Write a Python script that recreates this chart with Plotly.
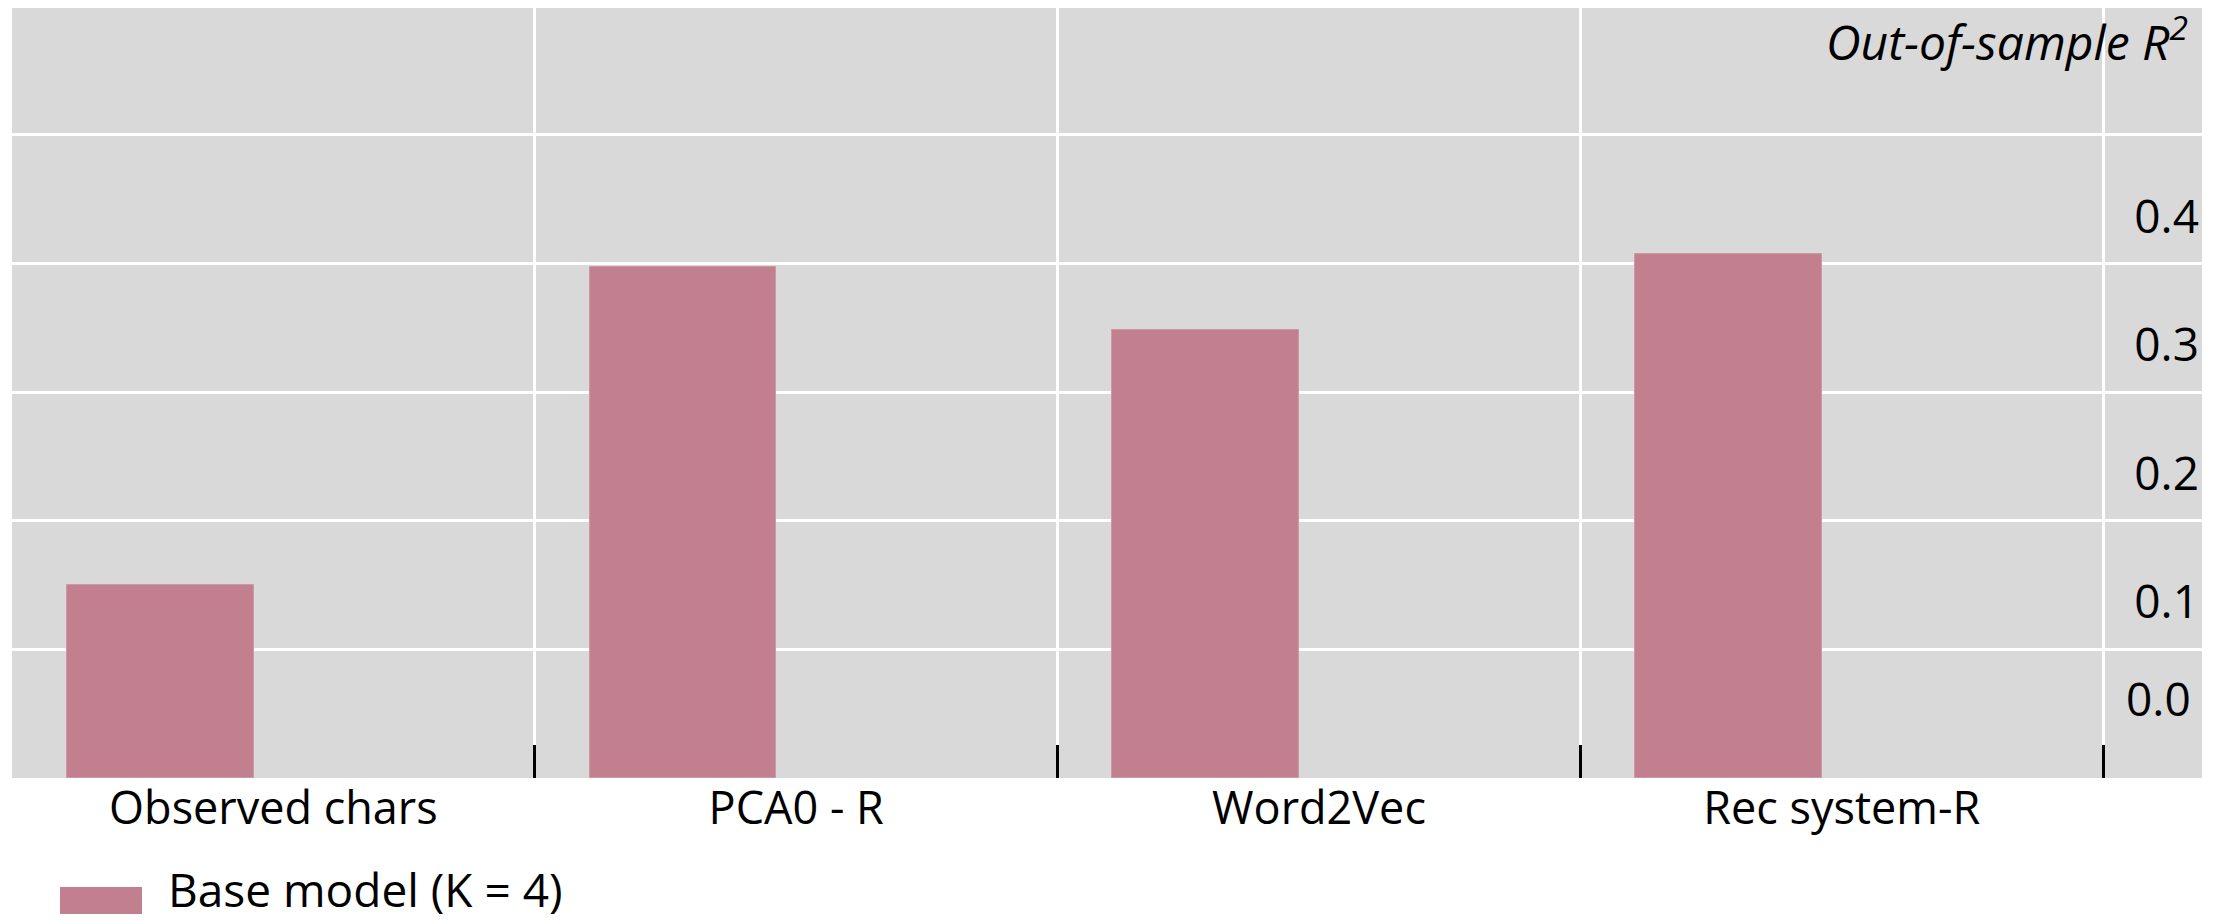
import plotly.graph_objects as go

# ---- data ----
categories = ["Observed chars", "PCA0 - R", "Word2Vec", "Rec system-R"]
base_model_r2 = [0.150, 0.397, 0.348, 0.407]
series_name = "Base model (K = 4)"
y_tickvals = [0.0, 0.1, 0.2, 0.3, 0.4, 0.5]
y_ticktext = ["", "0.1", "0.2", "0.3", "0.4", ""]
zero_label = "0.0"

BAR_COLOR = "#c27f8f"
BG = "#d9d9d9"
FONT = "Open Sans"

# the page body has an 8px default margin; compensate so the plot sits where the reference does
BODY = 8
W, H = 2210, 906
PLOT_LEFT, PLOT_RIGHT, PLOT_TOP, PLOT_BOTTOM = 12, 2202, 8, 778  # page pixels
ML = PLOT_LEFT - BODY
MT = PLOT_TOP - BODY
MR = W - (PLOT_RIGHT - BODY)
MB = H - (PLOT_BOTTOM - BODY)
PW, PH = W - ML - MR, H - MT - MB

def px_x(px):
    return (px - PLOT_LEFT) / PW

def px_y(py):
    return (PLOT_BOTTOM - py) / PH

fig = go.Figure()
fig.add_trace(go.Bar(
    x=categories, y=base_model_r2, name=series_name,
    width=0.357, offset=-0.395,
    marker=dict(color=BAR_COLOR, line=dict(color="#cc98a4", width=1)),
    showlegend=False,
))

fig.update_layout(
    width=W, height=H,
    margin=dict(l=ML, r=MR, t=MT, b=MB, autoexpand=False),
    paper_bgcolor="white", plot_bgcolor=BG,
    font=dict(family=FONT, size=44, color="black"),
    bargap=0,
    xaxis=dict(
        type="category", range=[-0.5, 3.689],
        tickson="boundaries", ticks="inside", ticklen=33, tickwidth=3,
        tickcolor="black", showgrid=True, gridcolor="white", gridwidth=3,
        showline=False, zeroline=False,
        tickfont=dict(family=FONT, size=45, color="black"),
    ),
    yaxis=dict(
        side="right", range=[0, 0.5986],
        tickvals=y_tickvals, ticktext=y_ticktext,
        ticklabelposition="inside", ticklabelshift=-47,
        ticks="", showgrid=True, gridcolor="white", gridwidth=3,
        zeroline=False, showline=False,
        tickfont=dict(family=FONT, size=46, color="black"),
    ),
    annotations=[
        dict(text="<i>Out-of-sample R<sup>2</sup></i>", xref="paper", yref="paper",
             x=1, y=1, xanchor="right", yanchor="top", xshift=-13, yshift=5,
             borderpad=0, showarrow=False,
             font=dict(family=FONT, size=48, color="black")),
        dict(text=zero_label, xref="paper", yref="y", x=1, y=0,
             xanchor="right", yanchor="middle", xshift=-9, yshift=80,
             showarrow=False, font=dict(family=FONT, size=46, color="black")),
        dict(text=series_name, xref="paper", yref="paper",
             x=px_x(167), y=px_y(889), xanchor="left", yanchor="middle",
             borderpad=0, showarrow=False,
             font=dict(family=FONT, size=46, color="black")),
    ],
    shapes=[
        dict(type="rect", xref="paper", yref="paper",
             x0=px_x(60), x1=px_x(142), y0=px_y(887), y1=px_y(930),
             fillcolor=BAR_COLOR, line=dict(width=0)),
    ],
)

fig.write_html("out.html")
